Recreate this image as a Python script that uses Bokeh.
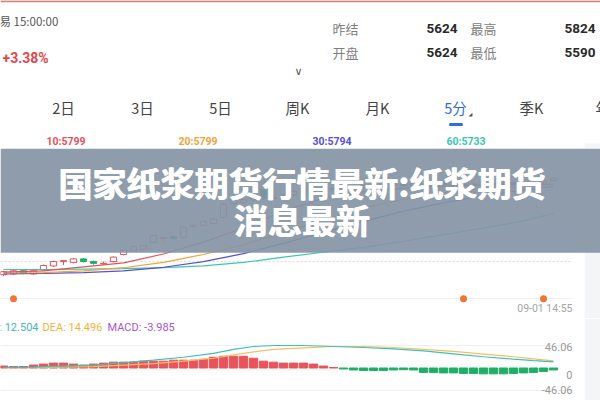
from bokeh.plotting import figure
from bokeh.layouts import column
from bokeh.models import Range1d, BoxAnnotation, ColumnDataSource
from bokeh.core.properties import value
from bokeh.embed import file_html
from bokeh.resources import INLINE

# ---------------- header data ----------------
quote_time = "易 15:00:00"
change_pct = "+3.38%"
quote_labels = ["昨结", "最高", "开盘", "最低"]
prev_settle = 5624
high_price = 5824
open_price = 5624
low_price = 5590
tabs = ["2日", "3日", "5日", "周K", "月K", "5分", "季K", "年K"]
active_tab = "5分"
ma_periods = [10, 20, 30, 60]
ma_last = [5799, 5799, 5794, 5733]
title_lines = ["国家纸浆期货行情最新:纸浆期货", "消息最新"]

# ---------------- candles (5-minute) ----------------
opens = [5594, 5596, 5603, 5596, 5605, 5614, 5624, 5622, 5630, 5624,
         5619, 5624, 5640, 5648, 5652, 5667, 5676, 5680, 5679, 5704,
         5706, 5710, 5724, 5755, 5757, 5764, 5787, 5767, 5772, 5775,
         5780, 5786, 5782, 5790, 5788, 5794, 5791, 5797, 5794, 5796,
         5800, 5796, 5800, 5797, 5802, 5798, 5795, 5799, 5796, 5801,
         5798, 5802, 5799, 5803, 5802, 5807]
closes = [5601, 5603, 5597, 5603, 5615, 5624, 5626, 5630, 5624, 5620,
          5620, 5634, 5650, 5658, 5660, 5683, 5678, 5677, 5702, 5706,
          5714, 5720, 5754, 5763, 5765, 5772, 5767, 5769, 5774, 5783,
          5786, 5782, 5790, 5788, 5795, 5791, 5797, 5794, 5796, 5800,
          5796, 5800, 5797, 5802, 5798, 5795, 5799, 5796, 5801, 5798,
          5802, 5799, 5803, 5802, 5808, 5812]
highs = [5603, 5605, 5605, 5605, 5617, 5626, 5627, 5632, 5632, 5626,
         5624, 5636, 5652, 5660, 5662, 5685, 5679, 5683, 5704, 5708,
         5716, 5722, 5756, 5765, 5767, 5774, 5789, 5774, 5776, 5785,
         5790, 5789, 5792, 5794, 5797, 5797, 5799, 5800, 5799, 5803,
         5802, 5803, 5802, 5804, 5805, 5800, 5801, 5801, 5803, 5803,
         5804, 5804, 5805, 5806, 5810, 5816]
lows = [5591, 5594, 5595, 5594, 5603, 5612, 5616, 5620, 5622, 5617,
        5616, 5622, 5638, 5646, 5650, 5665, 5670, 5675, 5677, 5701,
        5704, 5708, 5722, 5753, 5755, 5762, 5764, 5764, 5770, 5773,
        5777, 5779, 5780, 5785, 5786, 5789, 5789, 5791, 5792, 5794,
        5793, 5794, 5795, 5795, 5796, 5792, 5793, 5794, 5794, 5796,
        5796, 5797, 5797, 5799, 5800, 5805]

# moving averages, read at sample candles
ma_idx = [0, 4, 8, 12, 16, 20, 24, 28, 32, 36, 40, 44, 48, 52, 55]
ma10 = [5600, 5603, 5612, 5621, 5641, 5668, 5700, 5738, 5768, 5782, 5790, 5795, 5797, 5799, 5799]
ma20 = [5598, 5599, 5603, 5610, 5622, 5640, 5662, 5690, 5718, 5745, 5765, 5780, 5790, 5796, 5799]
ma30 = [5596, 5597, 5599, 5603, 5611, 5624, 5642, 5665, 5690, 5715, 5738, 5757, 5773, 5786, 5794]
ma60 = [5606, 5606, 5607, 5608, 5610, 5614, 5622, 5634, 5645, 5656, 5670, 5685, 5700, 5716, 5733]

event_idx = [1, 46, 54]
last_time = "09-01 14:55"

# ---------------- MACD ----------------
macd_hist = [4, 3, 3, 6, 8, 10, 10, 8, 6, 8,
             10, 12, 12, 12, 14, 14, 14, 16, 16, 16,
             18, 22, 24, 24, 24, 20, 14, 12, 10, 10,
             10, 8, 4, 1, -2, -4, -5, -5, -5, -4,
             -3.5, -4, -9, -9, -10, -10, -11, -11, -12, -12,
             -12, -11, -10, -9, -7, -3.985]
line_idx = [0, 3, 6, 9, 12, 15, 18, 21, 23, 25, 27, 30, 33, 36, 39, 42, 45, 48, 51, 53, 55]
dif = [1, 2, 4, 6, 11, 16, 22, 30, 38, 44, 46, 46, 44, 42, 39, 35, 29, 23, 18, 15, 12.504]
dea = [0, 0.5, 2, 3, 6, 9, 14, 20, 27, 33, 38, 41, 44, 44, 42, 38, 34, 28.5, 23, 18.5, 14.496]
dif_last, dea_last, macd_last = 12.504, 14.496, -3.985
macd_bound = 46.06

# ---------------- styles ----------------
W = 600
UP = "#e9535a"
DOWN = "#1fae66"
MA_COLORS = ["#e4505d", "#f2a33a", "#5a4fd0", "#3cc6b0"]
CJK = value("Noto Sans CJK SC")
NUM = value("Roboto")
PANEL = "#f4f5f7"


def bare(p):
    p.min_border = 0
    p.outline_line_color = None
    p.background_fill_color = "white"
    p.border_fill_color = "white"
    p.grid.visible = False
    p.xgrid.visible = False
    p.ygrid.visible = False
    p.toolbar.logo = None
    return p


# ---------------- header ----------------
h = bare(figure(width=W, height=148, x_range=Range1d(0, 600), y_range=Range1d(148, 0),
                output_backend="svg", toolbar_location=None,
                x_axis_location=None, y_axis_location=None))
h.line([0, 600], [0.8, 0.8], line_color="#d08383", line_width=2)
h.add_layout(BoxAnnotation(left=584, top=143, bottom=148, fill_color=PANEL, fill_alpha=1,
                           line_color=None, level="underlay"))
h.text(x=[-1], y=[20], text=[quote_time], text_font=CJK, text_font_size="11.5px",
       text_color="#555555", text_baseline="middle")
h.text(x=[2], y=[57], text=[change_pct], text_font=NUM, text_font_size="14px",
       text_font_style="bold", text_color="#e0474c", text_baseline="middle")
h.text(x=[332, 470, 332, 470], y=[28, 28, 52, 52], text=quote_labels, text_font=CJK,
       text_font_size="13px", text_color="#808080", text_baseline="middle")
h.text(x=[457, 595, 457, 595], y=[28, 28, 52, 52],
       text=[str(prev_settle), str(high_price), str(open_price), str(low_price)],
       text_font=NUM, text_font_size="13.5px", text_font_style="bold", text_color="#2a2a2a",
       text_align="right", text_baseline="middle")
h.text(x=[298], y=[71], text=["∨"], text_font=value("DejaVu Sans"), text_font_size="11px",
       text_color="#555555", text_align="center", text_baseline="middle")
tab_x = [63, 142, 220, 297, 377, 455, 531, 607]
tab_col = ["#2f6be0" if t == active_tab else "#444444" for t in tabs]
h.text(x=tab_x, y=[107] * len(tabs), text=tabs, text_font=CJK, text_font_size="14.5px",
       text_color=tab_col, text_align="center", text_baseline="middle")
h.text(x=[470], y=[113], text=["◢"], text_font=value("DejaVu Sans"), text_font_size="5px",
       text_color="#555555", text_align="center", text_baseline="middle")
h.line([450, 461], [124, 124], line_color="#2f6be0", line_width=3, line_cap="round")
ma_lab_x = [46, 178, 312, 446]
h.text(x=ma_lab_x, y=[141] * 4, text=[f"{n}:{v}" for n, v in zip(ma_periods, ma_last)],
       text_font=NUM, text_font_size="10.5px", text_font_style="bold", text_color=MA_COLORS,
       text_baseline="middle")

# ---------------- main candle chart ----------------
xr = Range1d(-0.3, 59.7)
m = bare(figure(width=W, height=170, x_range=xr, y_range=Range1d(5495, 5880),
                output_backend="svg", toolbar_location=None,
                x_axis_location=None, y_axis_location=None))
m.add_layout(BoxAnnotation(left=58.1, fill_color=PANEL, fill_alpha=1, line_color=None,
                           level="underlay"))
idx = list(range(len(closes)))
up = [c >= o for o, c in zip(opens, closes)]
cs = ColumnDataSource(dict(
    x=idx, o=opens, c=closes, h=highs, l=lows,
    top=[max(o, c) for o, c in zip(opens, closes)],
    bot=[min(o, c) for o, c in zip(opens, closes)],
    col=[UP if u else DOWN for u in up],
    fill=["white" if u else DOWN for u in up],
))
right_edge = 56.9
m.line([-0.3, right_edge], [prev_settle, prev_settle], line_color="#d9d9d9",
       line_width=1, line_dash="2 2")
event_level = 5540
m.line([-0.3, right_edge], [event_level, event_level], line_color="#f1f1f1", line_width=1)
m.segment(x0="x", y0="l", x1="x", y1="h", line_color="col", line_width=1, source=cs)
m.vbar(x="x", top="top", bottom="bot", width=0.62, fill_color="fill", line_color="col",
       line_width=1, source=cs)
for ys, col in zip([ma60, ma30, ma20, ma10], MA_COLORS[::-1]):
    m.line(ma_idx, ys, line_color=col, line_width=1.2)
m.scatter(event_idx, [event_level] * len(event_idx), size=7, fill_color="#f07638",
          line_color=None)
m.text(x=[right_edge], y=[5518], text=[last_time], text_font=NUM, text_font_size="10.5px",
       text_color="#a5a5a5", text_align="right", text_baseline="middle")
m.add_layout(BoxAnnotation(bottom=5644, fill_color="#8494a4", fill_alpha=0.92,
                           line_color=None))
# title: a second pass offset by under a pixel gives the heavy weight of the original
for dx in (0.0, 0.9):
    m.text(x=[29.8, 29.8], y=[5803, 5719], text=title_lines, text_font=CJK,
           text_font_size="34px", text_font_style="bold", text_color="white",
           text_align="center", text_baseline="middle", level="overlay", x_offset=dx)

# ---------------- MACD panel ----------------
d = bare(figure(width=W, height=82, x_range=xr, y_range=Range1d(-66.5, 101.3),
                output_backend="svg", toolbar_location=None,
                x_axis_location=None, y_axis_location=None))
d.add_layout(BoxAnnotation(left=58.1, fill_color=PANEL, fill_alpha=1, line_color=None,
                           level="underlay"))
for b in (macd_bound, -macd_bound):
    d.line([-0.3, right_edge], [b, b], line_color="#f0f0f0", line_width=1)
d.vbar(x=idx, top=macd_hist, bottom=0, width=0.84,
       color=[UP if v > 0 else DOWN for v in macd_hist])
d.line(line_idx, dea, line_color="#f2c063", line_width=1.2)
d.line(line_idx, dif, line_color="#42bfb6", line_width=1.2)
d.text(x=[3.5], y=[83], text=[f"DIF: {dif_last}"], text_font=NUM, text_font_size="11px",
       text_color="#45b8b0", text_align="right", text_baseline="middle")
d.text(x=[3.9], y=[83], text=[f"DEA: {dea_last}"], text_font=NUM, text_font_size="11px",
       text_color="#f0b43c", text_baseline="middle")
d.text(x=[10.4], y=[83], text=[f"MACD: {macd_last}"], text_font=NUM, text_font_size="11px",
       text_color="#a855d0", text_baseline="middle")
d.text(x=[right_edge] * 3, y=[macd_bound, 0, -macd_bound],
       text=[f"{macd_bound}", "0", f"-{macd_bound}"], text_font=NUM, text_font_size="11px",
       text_color="#9a9a9a", text_align="right", text_baseline="middle",
       y_offset=[2, 7, -1])

p = column(h, m, d, spacing=0)
open("out.html", "w").write(file_html(p, INLINE))
